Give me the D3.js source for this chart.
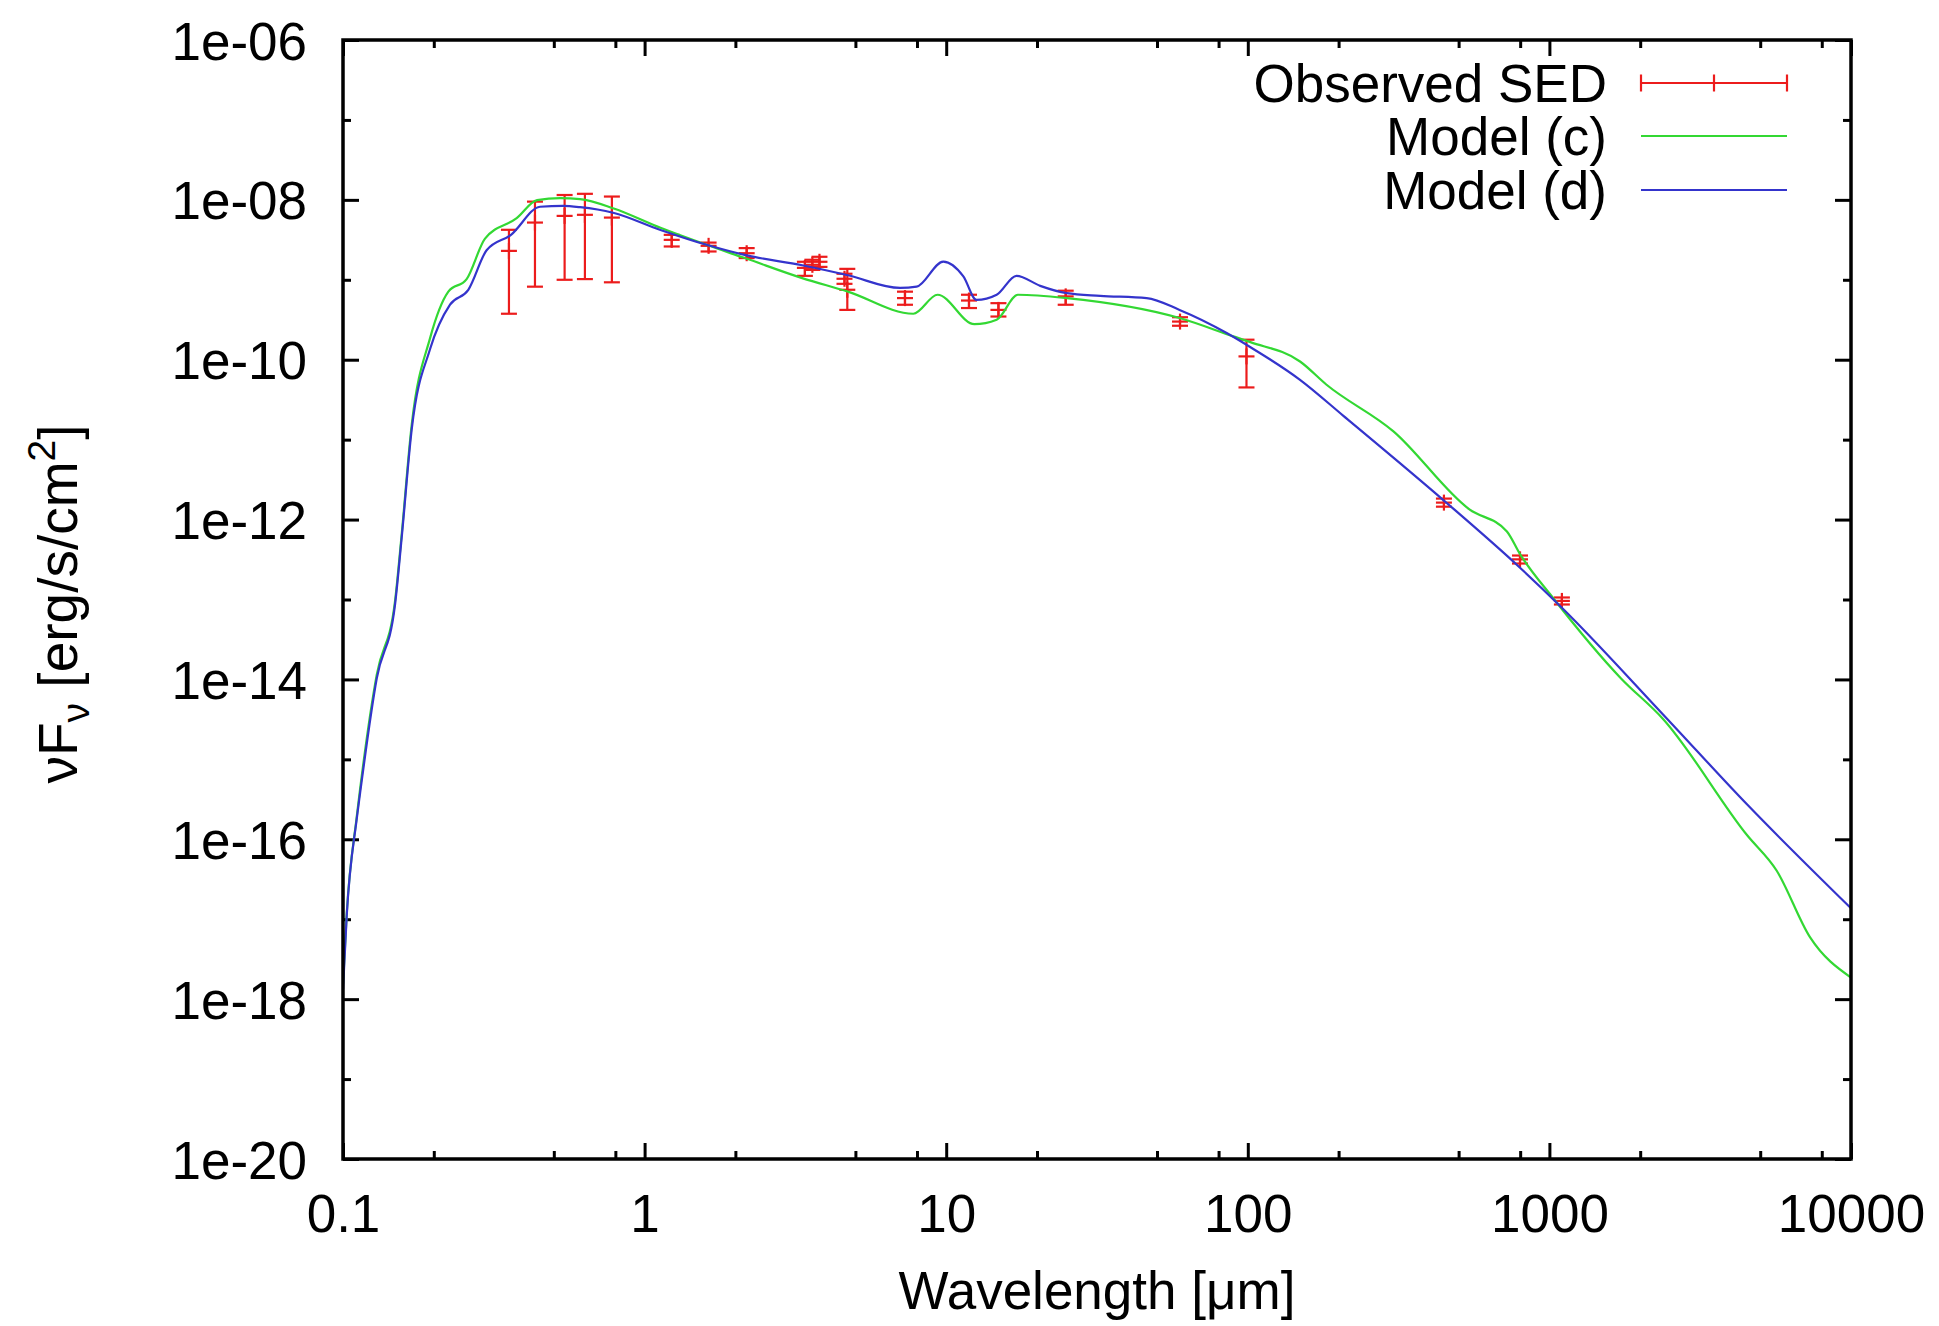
<!DOCTYPE html>
<html><head><meta charset="utf-8">
<script src="https://cdn.jsdelivr.net/npm/d3@7"></script>
<style>
body{margin:0;background:#fff}
svg{display:block}
text{font-family:"Liberation Sans",Arial,Helvetica,sans-serif}
</style>
</head><body>
<svg id="c" width="1939" height="1326"></svg>
<script>
// ---------- data ----------
const xTickValues = [0.1, 1, 10, 100, 1000, 10000];
const xTickLabels = ["0.1", "1", "10", "100", "1000", "10000"];
const xMinorValues = [0.2,0.5,0.8, 2,5,8, 20,50,80, 200,500,800, 2000,5000,8000];
const yTickValues = [1e-6, 1e-8, 1e-10, 1e-12, 1e-14, 1e-16, 1e-18, 1e-20];
const yTickLabels = ["1e-06", "1e-08", "1e-10", "1e-12", "1e-14", "1e-16", "1e-18", "1e-20"];
const yMinorValues = [1e-7, 1e-9, 1e-11, 1e-13, 1e-15, 1e-17, 1e-19];

const legendLabels = ["Observed SED", "Model (c)", "Model (d)"];

// Observed SED (wavelength in micron, nuFnu and error-bar ends)
const obsWave = [0.355, 0.433, 0.543, 0.634, 0.779, 1.23, 1.63, 2.18, 3.4, 3.6, 3.8, 4.6, 4.7, 7.3, 11.9, 14.9, 24.9, 59.6, 99, 447, 799, 1100];
const obsFlux = [2.30e-9, 5.2e-9, 6.3e-9, 6.5e-9, 6.0e-9, 3.16e-9, 2.66e-9, 2.15e-9, 1.41e-9, 1.54e-9, 1.68e-9, 1.03e-9, 7.5e-10, 5.9e-10, 5.5e-10, 4.2e-10, 6.2e-10, 3.0e-10, 1.1e-10, 1.63e-12, 3.18e-13, 9.6e-14];
const obsHigh = [4.22e-9, 9.5e-9, 1.15e-8, 1.19e-8, 1.1e-8, 3.65e-9, 2.92e-9, 2.49e-9, 1.68e-9, 1.78e-9, 1.94e-9, 1.19e-9, 1.37e-9, 7.1e-10, 6.5e-10, 5.1e-10, 7.3e-10, 3.4e-10, 1.78e-10, 1.83e-12, 3.55e-13, 1.06e-13];
const obsLow  = [3.76e-10, 8.2e-10, 1.0e-9, 1.02e-9, 9.3e-10, 2.61e-9, 2.26e-9, 1.87e-9, 1.12e-9, 1.33e-9, 1.45e-9, 8.9e-10, 4.2e-10, 4.87e-10, 4.43e-10, 3.47e-10, 4.87e-10, 2.66e-10, 4.5e-11, 1.45e-12, 2.82e-13, 8.66e-14];

// Model (c)
const modelCWave = [0.1, 0.1029, 0.111, 0.1139, 0.1294, 0.1487, 0.1565, 0.169, 0.1943, 0.2235, 0.257, 0.2957, 0.3766, 0.44, 0.525, 0.611, 0.79, 1.129, 1.604, 2.15, 3.33, 4.72, 7.78, 9.36, 12.4, 14.7, 17.3, 25.1, 59.4, 89.5, 102, 149, 182, 304, 543, 723, 799, 1032, 1728, 2381, 4519, 5666, 7311, 10000];
const modelCFlux = [1.54e-18, 1.19e-17, 1.88e-16, 4.2e-16, 1.15e-14, 9.4e-14, 6.5e-13, 1.54e-11, 1.85e-10, 7.1e-10, 1.02e-9, 3.27e-9, 5.9e-9, 9.9e-9, 1.05e-8, 1.02e-8, 7.8e-9, 4.47e-9, 2.74e-9, 1.87e-9, 1.05e-9, 7.1e-10, 3.76e-10, 6.5e-10, 2.78e-10, 3.16e-10, 6.5e-10, 5.9e-10, 3.32e-10, 1.96e-10, 1.66e-10, 9.5e-11, 4.9e-11, 1.27e-11, 1.34e-12, 7.1e-13, 3.7e-13, 1.03e-13, 1.03e-14, 3.2e-15, 1.13e-16, 4.07e-17, 5.96e-18, 1.86e-18];

// Model (d)
const modelDWave = [0.1, 0.1029, 0.111, 0.1139, 0.1294, 0.1487, 0.1565, 0.169, 0.1943, 0.2264, 0.2603, 0.2993, 0.3606, 0.45, 0.536, 0.611, 0.786, 1.129, 1.604, 2.18, 3.33, 4.72, 7.03, 7.98, 9.78, 11.4, 12.6, 14.7, 17.1, 20.5, 25.1, 32.4, 46.2, 59.4, 85.1, 99, 149, 207, 447, 799, 1100, 2381, 4519, 10000];
const modelDFlux = [1.33e-18, 1.12e-17, 1.78e-16, 3.76e-16, 1.03e-14, 8.5e-14, 5.9e-13, 1.35e-11, 1.35e-10, 4.9e-10, 7.5e-10, 2.34e-9, 3.65e-9, 8.2e-9, 8.4e-9, 8.1e-9, 6.9e-9, 4.2e-9, 2.74e-9, 2.02e-9, 1.52e-9, 1.14e-9, 7.9e-10, 8.2e-10, 1.69e-9, 1.1e-9, 5.6e-10, 6.5e-10, 1.12e-9, 8.4e-10, 6.8e-10, 6.3e-10, 5.9e-10, 4.2e-10, 2.16e-10, 1.54e-10, 5.6e-11, 2.0e-11, 1.73e-12, 2.5e-13, 7.9e-14, 3.65e-15, 2.74e-16, 1.37e-17];

// ---------- layout ----------
const FONT = 53;
const plot = {left: 343, right: 1851, top: 40, bottom: 1159};
const RED = "#ec1c1c", GREEN = "#33d833", BLUE = "#3434cc";

const svg = d3.select("#c");
const x = d3.scaleLog().domain([0.1, 10000]).range([plot.left, plot.right]);
const y = d3.scaleLog().domain([1e-20, 1e-6]).range([plot.bottom, plot.top]);

svg.append("defs").append("clipPath").attr("id", "clip")
  .append("rect").attr("x", plot.left).attr("y", plot.top)
  .attr("width", plot.right - plot.left).attr("height", plot.bottom - plot.top);

function styleAxis(g) {
  g.select(".domain").remove();
  g.attr("font-size", FONT).attr("font-family", '"Liberation Sans",Arial,Helvetica,sans-serif');
  g.selectAll(".tick line").attr("stroke", "#000").attr("stroke-width", 3);
  g.selectAll(".tick text").attr("fill", "#000");
}

// bottom axis with labels
const gxb = svg.append("g").attr("transform", `translate(0,${plot.bottom})`)
  .call(d3.axisBottom(x).tickValues(xTickValues).tickFormat((d, i) => xTickLabels[i]).tickSize(-16).tickPadding(0));
styleAxis(gxb);
gxb.selectAll(".tick text").attr("y", 73).attr("dy", 0);
svg.append("g").attr("transform", `translate(0,${plot.bottom})`)
  .call(d3.axisBottom(x).tickValues(xMinorValues).tickFormat("").tickSize(-8)).call(styleAxis);
// top mirror
svg.append("g").attr("transform", `translate(0,${plot.top})`)
  .call(d3.axisTop(x).tickValues(xTickValues).tickFormat("").tickSize(-16)).call(styleAxis);
svg.append("g").attr("transform", `translate(0,${plot.top})`)
  .call(d3.axisTop(x).tickValues(xMinorValues).tickFormat("").tickSize(-8)).call(styleAxis);

// left axis with labels
const gyl = svg.append("g").attr("transform", `translate(${plot.left},0)`)
  .call(d3.axisLeft(y).tickValues(yTickValues).tickFormat((d, i) => yTickLabels[i]).tickSize(-16).tickPadding(36));
styleAxis(gyl);
gyl.selectAll(".tick text").attr("dy", "0.36em");
svg.append("g").attr("transform", `translate(${plot.left},0)`)
  .call(d3.axisLeft(y).tickValues(yMinorValues).tickFormat("").tickSize(-8)).call(styleAxis);
// right mirror
svg.append("g").attr("transform", `translate(${plot.right},0)`)
  .call(d3.axisRight(y).tickValues(yTickValues).tickFormat("").tickSize(-16)).call(styleAxis);
svg.append("g").attr("transform", `translate(${plot.right},0)`)
  .call(d3.axisRight(y).tickValues(yMinorValues).tickFormat("").tickSize(-8)).call(styleAxis);

// ---------- observed SED error bars ----------
const obs = obsWave.map((w, i) => ({w, f: obsFlux[i], lo: obsLow[i], hi: obsHigh[i]}));
const gObs = svg.append("g").attr("clip-path", "url(#clip)")
  .attr("stroke", RED).attr("stroke-width", 2.2).attr("fill", "none");
const CAP = 8, PT = 8;
obs.forEach(d => {
  const cx = x(d.w), cy = y(d.f), yt = y(d.hi), yb = y(d.lo);
  gObs.append("line").attr("x1", cx).attr("x2", cx).attr("y1", yt).attr("y2", yb);
  gObs.append("line").attr("x1", cx - CAP).attr("x2", cx + CAP).attr("y1", yt).attr("y2", yt);
  gObs.append("line").attr("x1", cx - CAP).attr("x2", cx + CAP).attr("y1", yb).attr("y2", yb);
  gObs.append("line").attr("x1", cx - PT).attr("x2", cx + PT).attr("y1", cy).attr("y2", cy);
  gObs.append("line").attr("x1", cx).attr("x2", cx).attr("y1", cy - PT).attr("y2", cy + PT);
});

// ---------- model curves ----------
const line = d3.line().x(d => x(d[0])).y(d => y(d[1])).curve(d3.curveMonotoneX);
const modelC = modelCWave.map((w, i) => [w, modelCFlux[i]]);
const modelD = modelDWave.map((w, i) => [w, modelDFlux[i]]);
svg.append("path").datum(modelC).attr("clip-path", "url(#clip)")
  .attr("d", line).attr("fill", "none").attr("stroke", GREEN).attr("stroke-width", 2.2).attr("stroke-linejoin", "round");
svg.append("path").datum(modelD).attr("clip-path", "url(#clip)")
  .attr("d", line).attr("fill", "none").attr("stroke", BLUE).attr("stroke-width", 2.2).attr("stroke-linejoin", "round");

// ---------- border ----------
svg.append("rect").attr("x", plot.left).attr("y", plot.top)
  .attr("width", plot.right - plot.left).attr("height", plot.bottom - plot.top)
  .attr("fill", "none").attr("stroke", "#000").attr("stroke-width", 3.5);

// ---------- legend ----------
const legTextX = 1607, legX1 = 1641, legX2 = 1787;
const legBase = [102, 155, 209];
const legColors = [RED, GREEN, BLUE];
legendLabels.forEach((lab, i) => {
  svg.append("text").attr("x", legTextX).attr("y", legBase[i]).attr("text-anchor", "end")
    .attr("font-size", FONT).attr("fill", "#000").text(lab);
  const ly = legBase[i] - 19;
  svg.append("line").attr("x1", legX1).attr("x2", legX2).attr("y1", ly).attr("y2", ly)
    .attr("stroke", legColors[i]).attr("stroke-width", 2.2);
  if (i === 0) {
    [legX1, (legX1 + legX2) / 2, legX2].forEach(px => {
      svg.append("line").attr("x1", px).attr("x2", px).attr("y1", ly - 8.5).attr("y2", ly + 8.5)
        .attr("stroke", RED).attr("stroke-width", 2.2);
    });
  }
});

// ---------- axis titles ----------
svg.append("text").attr("x", (plot.left + plot.right) / 2).attr("y", 1309)
  .attr("text-anchor", "middle").attr("font-size", FONT).attr("fill", "#000")
  .text("Wavelength [\u03bcm]");

const yl = svg.append("text").attr("transform", `translate(77,604) rotate(-90)`)
  .attr("text-anchor", "middle").attr("font-size", 55).attr("fill", "#000");
yl.append("tspan").text("\u03bdF");
yl.append("tspan").attr("font-size", 39).attr("dy", 12).text("\u03bd");
yl.append("tspan").attr("dy", -12).text(" [erg/s/cm");
yl.append("tspan").attr("font-size", 39).attr("dy", -22).text("2");
yl.append("tspan").attr("dy", 22).text("]");
</script>
</body></html>
